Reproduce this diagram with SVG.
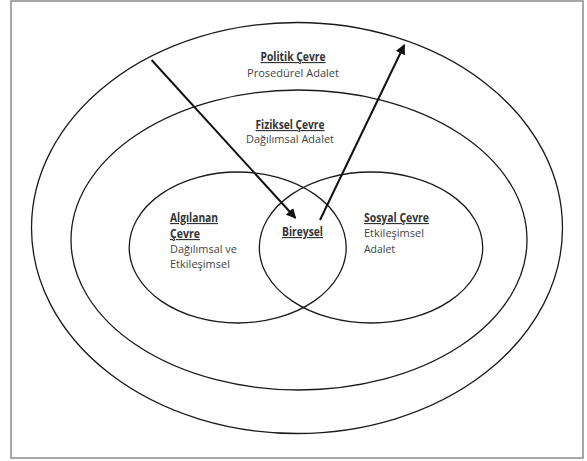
<svg xmlns="http://www.w3.org/2000/svg" width="587" height="461" viewBox="0 0 587 461">
<style>
.ell{fill:none;stroke:#1a1a1a;stroke-width:1.3}
.arr{fill:none;stroke:#111;stroke-width:2}
.t{font-family:"Open Sans","Liberation Sans",Arial,sans-serif;font-size:11.5px;fill:#444}
.b{font-family:"Open Sans","Liberation Sans",Arial,sans-serif;font-size:11.5px;font-weight:bold;fill:#333;text-decoration:underline}
</style>
<defs>
<marker id="ah" viewBox="0 0 10 10" refX="9" refY="5" markerWidth="5" markerHeight="5" orient="auto" markerUnits="strokeWidth">
<path d="M0,0 L10,5 L0,10 z" fill="#111"/>
</marker>
</defs>
<rect x="0" y="0" width="587" height="461" fill="#fff"/>
<rect x="11" y="1" width="572" height="457" fill="none" stroke="#8a8a8a" stroke-width="1.5"/>
<g id="politik">
<ellipse class="ell" cx="297" cy="228" rx="265.5" ry="205.5"/>
<text class="b" x="293" y="61" text-anchor="middle" textLength="65" lengthAdjust="spacingAndGlyphs">Politik Çevre</text>
<text class="t" x="293" y="77" text-anchor="middle" textLength="92" lengthAdjust="spacingAndGlyphs">Prosedürel Adalet</text>
</g>
<g id="fiziksel">
<ellipse class="ell" cx="299" cy="240" rx="228" ry="150"/>
<text class="b" x="290" y="129" text-anchor="middle" textLength="69" lengthAdjust="spacingAndGlyphs">Fiziksel Çevre</text>
<text class="t" x="290" y="143" text-anchor="middle" textLength="88" lengthAdjust="spacingAndGlyphs">Dağılımsal Adalet</text>
</g>
<g id="algilanan">
<ellipse class="ell" cx="237.7" cy="247.5" rx="108.5" ry="75.5"/>
<text class="b" x="170" y="222" textLength="48" lengthAdjust="spacingAndGlyphs">Algılanan</text>
<text class="b" x="170" y="238" textLength="30" lengthAdjust="spacingAndGlyphs">Çevre</text>
<text class="t" x="170" y="253" textLength="67" lengthAdjust="spacingAndGlyphs">Dağılımsal ve</text>
<text class="t" x="170" y="268" textLength="60" lengthAdjust="spacingAndGlyphs">Etkileşimsel</text>
</g>
<g id="sosyal">
<ellipse class="ell" cx="371" cy="247.5" rx="111.7" ry="75.5"/>
<text class="b" x="364" y="222" textLength="65" lengthAdjust="spacingAndGlyphs">Sosyal Çevre</text>
<text class="t" x="364" y="237" textLength="60" lengthAdjust="spacingAndGlyphs">Etkileşimsel</text>
<text class="t" x="364" y="253" textLength="31" lengthAdjust="spacingAndGlyphs">Adalet</text>
</g>
<g id="bireysel">
<text class="b" x="302.5" y="236" text-anchor="middle" textLength="41" lengthAdjust="spacingAndGlyphs">Bireysel</text>
</g>
<g id="connectors">
<line class="arr" x1="151.6" y1="60" x2="295.5" y2="218" marker-end="url(#ah)"/>
<line class="arr" x1="320" y1="220" x2="404.3" y2="45" marker-end="url(#ah)"/>
</g>
</svg>
